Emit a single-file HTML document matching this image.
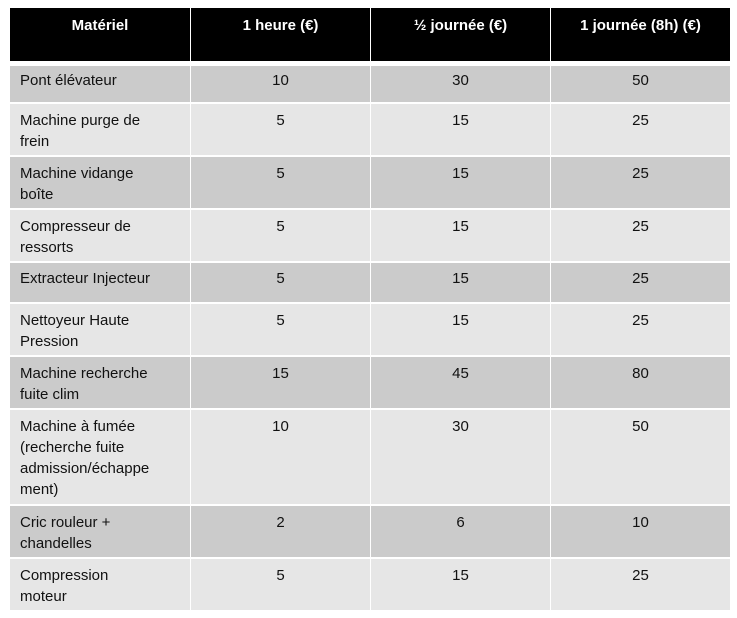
<!DOCTYPE html>
<html><head><meta charset="utf-8"><style>
body{margin:0;width:737px;height:618px;background:#fff;position:relative;font-family:"Liberation Sans",sans-serif;overflow:hidden}
.c{position:absolute;box-sizing:border-box;font-size:15px;line-height:21px;color:#111;padding-top:6px}
.h{background:#000;color:#fff;font-weight:bold;text-align:center;padding-top:7px}
.l{padding-left:10px}
.n{text-align:center}
.d{background:#cbcbcb}.g{background:#e6e6e6}
</style></head><body>
<div id="t"></div>
<script>
var cols=[[10,180],[191,179],[371,179],[551,179]];
var hdr=["Matériel","1 heure (€)","½ journée (€)","1 journée (8h) (€)"];
var s="";
hdr.forEach(function(h,i){s+='<div class="c h" style="left:'+cols[i][0]+'px;top:8px;width:'+cols[i][1]+'px;height:53px">'+h+'</div>';});
var rows=[
[66,36,"Pont élévateur","10","30","50"],
[104,51,"Machine purge de<br>frein","5","15","25"],
[157,51,"Machine vidange<br>boîte","5","15","25"],
[210,51,"Compresseur de<br>ressorts","5","15","25"],
[263,39,"Extracteur Injecteur","5","15","25"],
[304,51,"Nettoyeur Haute<br>Pression","5","15","25"],
[357,51,"Machine recherche<br>fuite clim","15","45","80"],
[410,94,"Machine à fumée<br>(recherche fuite<br>admission/échappe<br>ment)","10","30","50"],
[506,51,"Cric rouleur +<br>chandelles","2","6","10"],
[559,51,"Compression<br>moteur","5","15","25"]];
rows.forEach(function(r,k){var bg=k%2==0?"d":"g";var pt=k==0?4:(k==4?5:6);
for(var i=0;i<4;i++){s+='<div class="c '+bg+' '+(i==0?'l':'n')+'" style="padding-top:'+pt+'px;left:'+cols[i][0]+'px;top:'+r[0]+'px;width:'+cols[i][1]+'px;height:'+r[1]+'px">'+r[2+i]+'</div>';}});
document.getElementById("t").innerHTML=s;
</script>
</body></html>
